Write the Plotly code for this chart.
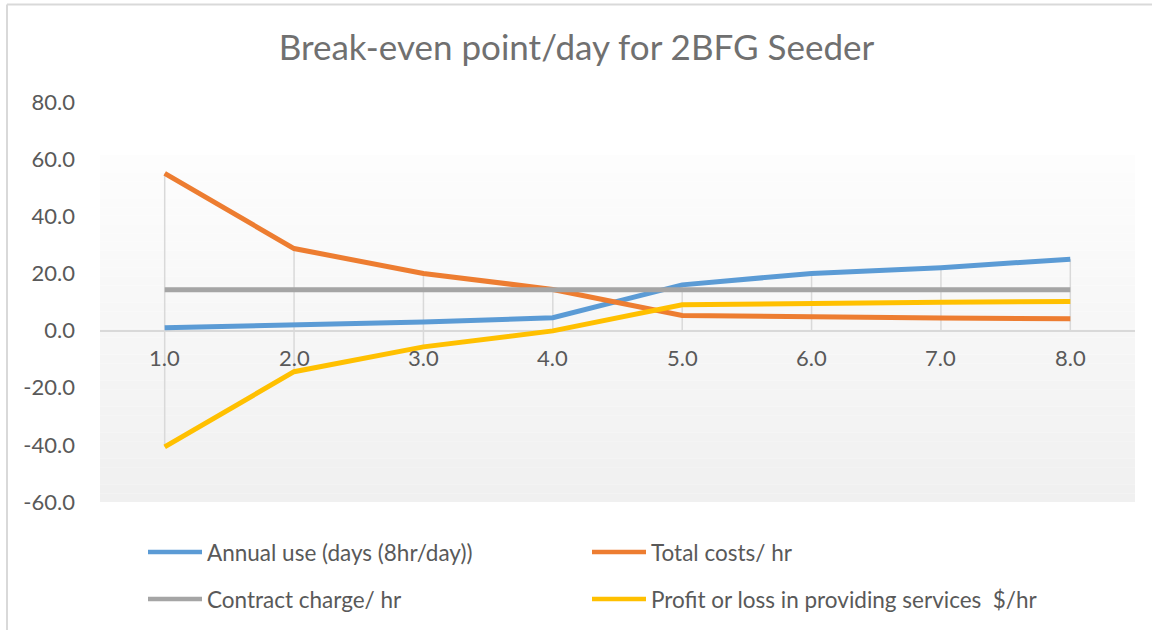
import plotly.graph_objects as go

# ---- data ----
x_vals = [1, 2, 3, 4, 5, 6, 7, 8]
x_labels = ["1.0", "2.0", "3.0", "4.0", "5.0", "6.0", "7.0", "8.0"]
annual_use = [1.0, 2.0, 3.0, 4.5, 16.0, 20.0, 22.0, 25.0]
total_costs = [55.0, 28.7, 20.0, 14.4, 5.3, 4.7, 4.4, 4.1]
contract_charge = [14.3, 14.3, 14.3, 14.3, 14.3, 14.3, 14.3, 14.3]
profit_loss = [-40.7, -14.4, -5.7, -0.1, 9.0, 9.6, 9.9, 10.2]
y_ticks = [-60, -40, -20, 0, 20, 40, 60, 80]
y_labels = ["-60.0", "-40.0", "-20.0", "0.0", "20.0", "40.0", "60.0", "80.0"]

series_names = ["Annual use (days (8hr/day))", "Total costs/ hr",
                "Contract charge/ hr", "Profit or loss in providing services  $/hr"]
series_values = [annual_use, total_costs, contract_charge, profit_loss]
series_colors = ["#5B9BD5", "#ED7D31", "#A5A5A5", "#FFC000"]

FONT = "Lato"
TXT = "#595959"

fig = go.Figure()

# drop lines (from each point to the category axis)
dx, dy = [], []
for i, xv in enumerate(x_vals):
    vals = [s[i] for s in series_values]
    dx += [xv, xv, None]
    dy += [max(0, max(vals)), min(0, min(vals)), None]
fig.add_trace(go.Scatter(x=dx, y=dy, mode="lines", line=dict(color="#D9D9D9", width=1.5),
                         showlegend=False, hoverinfo="skip"))

for name, vals, col in zip(series_names, series_values, series_colors):
    fig.add_trace(go.Scatter(x=x_vals, y=vals, name=name, mode="lines",
                             line=dict(color=col, width=5), showlegend=False))

L, T, W, H = 100, 102, 1035, 400
FW, FH = 1153, 630
shapes = []
# gradient plot-area fill
n = 40
top, bot = 61.4, -60.0
for k in range(n):
    y0 = top - (top - bot) * k / n
    y1 = top - (top - bot) * (k + 1) / n
    t = (k + 0.5) / n
    c = round(253 - (253 - 240) * t)
    shapes.append(dict(type="rect", xref="x", yref="y", x0=0.5, x1=8.5, y0=y1, y1=y0,
                       fillcolor=f"rgb({c},{c},{c})", line=dict(width=0), layer="below"))
# chart border (left & top)
bx = (7 - L) / W
by = 1 + (T - 4.5) / H
shapes.append(dict(type="line", xref="paper", yref="paper", x0=bx, x1=bx,
                   y0=-(FH - T - H) / H, y1=by, line=dict(color="#D9D9D9", width=2)))
shapes.append(dict(type="line", xref="paper", yref="paper", x0=bx, x1=(FW - 1 - L) / W,
                   y0=by, y1=by, line=dict(color="#D9D9D9", width=2)))

annotations = []
for xv, lab in zip(x_vals, x_labels):
    annotations.append(dict(x=xv, y=0, xref="x", yref="y", text=lab, showarrow=False,
                            yshift=-27, font=dict(family=FONT, size=22, color=TXT)))

# custom legend
leg_pos = [(148, 552), (592, 552), (148, 599), (592, 599)]
for (px, py), name, col in zip(leg_pos, series_names, series_colors):
    xa = (px - L) / W
    xb = (px + 54 - L) / W
    yy = 1 - (py - T) / H
    shapes.append(dict(type="line", xref="paper", yref="paper", x0=xa, x1=xb, y0=yy, y1=yy,
                       line=dict(color=col, width=4.5)))
    annotations.append(dict(x=(px + 57 - L) / W, y=yy, xref="paper", yref="paper", text=name,
                            showarrow=False, xanchor="left", yanchor="middle",
                            font=dict(family=FONT, size=22.5, color=TXT)))

fig.update_layout(
    width=FW, height=FH,
    margin=dict(l=L, r=FW - L - W, t=T, b=FH - T - H),
    paper_bgcolor="white", plot_bgcolor="rgba(0,0,0,0)",
    title=dict(text="Break-even point/day for 2BFG Seeder", x=0.5, xanchor="center",
               y=1 - 48 / FH, yanchor="middle",
               font=dict(family=FONT, size=35, color="#707070")),
    xaxis=dict(range=[0.5, 8.5], showgrid=False, zeroline=False, showticklabels=False,
               showline=False, fixedrange=True),
    yaxis=dict(range=[-60, 80], tickvals=y_ticks, ticktext=y_labels, showgrid=False,
               zeroline=True, zerolinecolor="#D9D9D9", zerolinewidth=2, showline=False,
               ticks="", ticklabelstandoff=24,
               tickfont=dict(family=FONT, size=22, color=TXT)),
    shapes=shapes, annotations=annotations, showlegend=False,
)

fig.write_html("out.html", config={"displayModeBar": False},
               post_script="document.body.style.margin='0px';document.body.style.overflow='hidden';")
